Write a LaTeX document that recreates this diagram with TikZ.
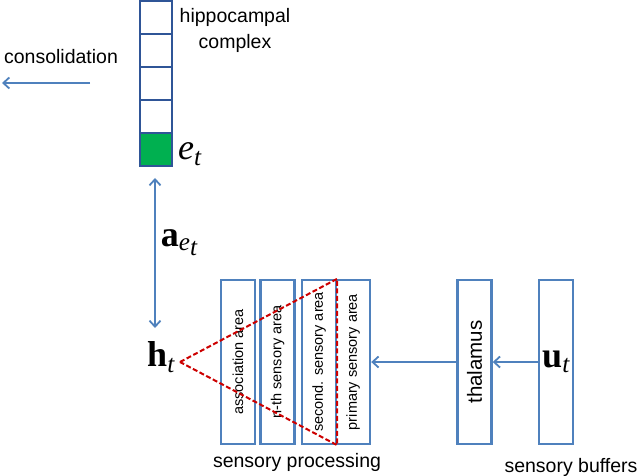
\documentclass[tikz,border=0pt]{standalone}
\usepackage[no-math]{fontspec}
\setmainfont{Liberation Sans}
\newfontfamily\symserif[NFSSFamily=lsf]{Liberation Serif}
\DeclareSymbolFont{letters}{TU}{lsf}{m}{it}
\DeclareMathAlphabet{\mathbf}{TU}{lsf}{b}{n}
\usetikzlibrary{arrows.meta, calc}
\definecolor{boxblue}{RGB}{79,129,189}
\definecolor{hipblue}{RGB}{47,85,151}
\definecolor{cellgreen}{RGB}{0,176,80}
\definecolor{dashred}{RGB}{204,0,0}
\tikzset{
    area/.style={draw=boxblue, line width=2.4pt, minimum width=34, minimum height=164, inner sep=0pt},
    cell/.style={draw=hipblue, line width=2pt, minimum width=32, minimum height=33, inner sep=0pt},
    flow/.style={draw=boxblue, line width=1.8pt, -{Straight Barb[length=6pt,width=11pt]}},
    dflow/.style={draw=boxblue, line width=1.8pt, {Straight Barb[length=6pt,width=11pt]}-{Straight Barb[length=6pt,width=11pt]}},
    lbl/.style={font=\fontsize{19.5}{26}\selectfont},
    arealbl/.style={font=\fontsize{14.5}{17}\selectfont, rotate=90},
    sym/.style={font=\fontsize{36}{40}\selectfont, inner sep=0pt},
    redline/.style={draw=dashred, line width=2pt, dash pattern=on 5pt off 2.5pt}
}

\begin{document}
\begin{tikzpicture}[x=1pt, y=-1pt]
    \useasboundingbox (0,0) rectangle (640,476);
    \foreach \i in {1,...,4}
        \node [cell] (c\i) at (156,{33*\i-15}) {};
    \node [cell, fill=cellgreen] (c5) at (156,150) {};
    \node [sym, anchor=west] (et) at ([xshift=5pt, yshift=-4pt]c5.east) {$e_t$};
    \node [lbl, align=center] (hip) at (235,30) {hippocampal\\complex};
    \node [lbl] (cons) at (61,57) {consolidation};
    \coordinate (consA) at (90,83);
    \coordinate (consB) at (2,83);
    \draw [flow] (consA) -- (consB);

    \node [sym] (ht) at (161,357) {$\mathbf{h}_t$};
    \coordinate (apex) at (180,362);
    \coordinate (atop) at (155,178);
    \coordinate (abot) at (155,328);
    \draw [dflow] (atop) -- node [sym, right, xshift=5pt, yshift=10pt] (aet) {$\mathbf{a}_{e_{\scriptstyle t}}$} (abot);

    \node [area, label={[arealbl]center:association area}] (assoc) at (238,362) {};
    \node [area, label={[arealbl]center:n-th sensory area}] (nth) at (277.5,362) {};
    \node [area, label={[arealbl]center:second. sensory area}] (second) at (319,362) {};
    \node [area, label={[arealbl]center:primary sensory area}] (prim) at (353,362) {};
    \node [area, label={[arealbl, font=\fontsize{20.5}{24}\selectfont]center:thalamus}] (thal) at (474.5,362) {};
    \node [area, font=\fontsize{36}{40}\selectfont] (buf) at (556,362) {$\mathbf{u}_t$};

    \draw [flow] (buf.west) -- (thal.east);
    \draw [flow] (thal.west) -- (prim.east);
    \draw [redline] (apex) -- (second.north east) -- (second.south east) -- cycle;

    \node [lbl] (proc) at (297,462) {sensory processing};
    \node [lbl] (bufs) at (571,467) {sensory buffers};
\end{tikzpicture}
\end{document}
